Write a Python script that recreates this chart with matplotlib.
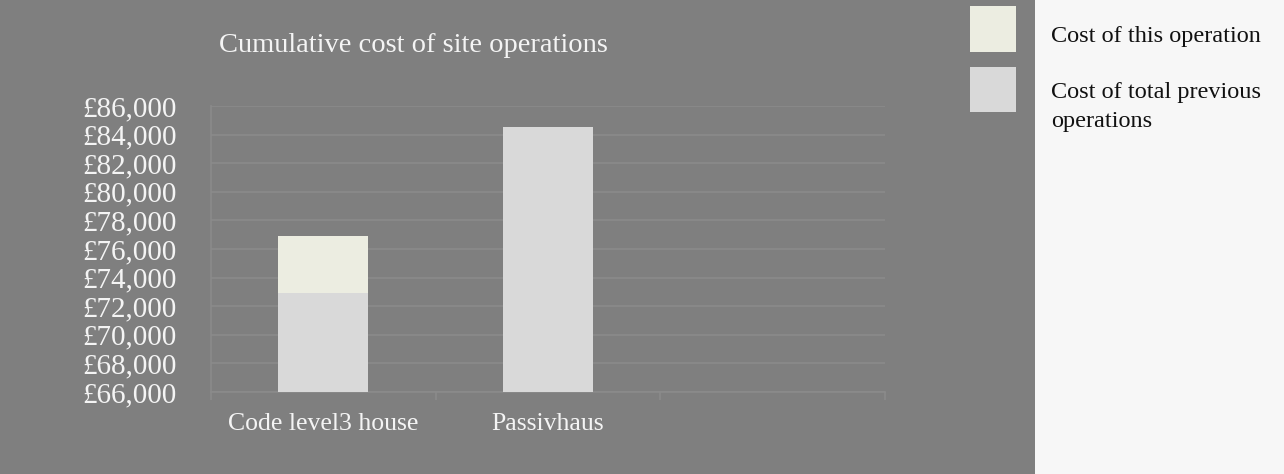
import matplotlib
matplotlib.use("Agg")
import matplotlib.pyplot as plt
from matplotlib.patches import Rectangle
from matplotlib.ticker import FuncFormatter, FixedLocator

# data
categories = ["Code level3 house", "Passivhaus"]
prev_cost = [72900, 84500]      # cost of total previous operations
this_cost = [4000, 0]           # cost of this operation
series_names = ["Cost of this operation", "Cost of total previous\noperations"]
y_ticks = list(range(66000, 86001, 2000))

# colours
bg_grey = "#7f7f7f"
panel_col = "#f7f7f7"
this_col = "#ecede1"
prev_col = "#d9d9d9"
grid_col = "#8b8b8b"
text_col = "#f4f4f4"

plt.rcParams["font.family"] = ["Liberation Serif", "DejaVu Serif"]

W, H = 1284, 474
fig = plt.figure(figsize=(W / 100, H / 100), dpi=100, facecolor=panel_col)

# grey chart background
fig.add_artist(Rectangle((0, 0), 1035 / W, 1, transform=fig.transFigure,
                         facecolor=bg_grey, edgecolor="none", zorder=-10))

ax = fig.add_axes([211 / W, 1 - 392 / H, (885 - 211) / W, (392 - 106) / H])
ax.set_facecolor(bg_grey)

x = list(range(len(categories)))
ax.bar(x, prev_cost, width=0.4, color=prev_col, zorder=3)
ax.bar(x, this_cost, width=0.4, bottom=prev_cost, color=this_col, zorder=3)

ax.set_xlim(-0.5, 2.5)
ax.set_ylim(y_ticks[0], y_ticks[-1])
ax.set_yticks(y_ticks)
ax.yaxis.set_major_formatter(FuncFormatter(lambda v, p: "£{:,.0f}".format(v)))
ax.grid(axis="y", color=grid_col, linewidth=1.2, zorder=0)

ax.set_xticks(x)
ax.set_xticklabels(categories)
ax.xaxis.set_minor_locator(FixedLocator([-0.5, 0.5, 1.5, 2.5]))
ax.tick_params(axis="x", which="major", length=0, pad=15, labelsize=18.5, labelcolor=text_col)
ax.tick_params(axis="x", which="minor", length=6, color=grid_col, width=1.2)
ax.tick_params(axis="y", length=0, pad=25, labelsize=21, labelcolor=text_col)

for s in ["top", "right"]:
    ax.spines[s].set_visible(False)
for s in ["left", "bottom"]:
    ax.spines[s].set_color(grid_col)
    ax.spines[s].set_linewidth(1.2)

# title
fig.text(413 / W, 1 - 52 / H, "Cumulative cost of site operations",
         ha="center", va="baseline", fontsize=20.5, color=text_col)

# legend
fig.add_artist(Rectangle((970 / W, 1 - 52 / H), 46 / W, 46 / H, transform=fig.transFigure,
                         facecolor=this_col, edgecolor="none"))
fig.add_artist(Rectangle((970 / W, 1 - 112 / H), 46 / W, 45 / H, transform=fig.transFigure,
                         facecolor=prev_col, edgecolor="none"))
fig.text(1051 / W, 1 - 42 / H, series_names[0], ha="left", va="baseline",
         fontsize=17.5, color="#111111")
fig.text(1051 / W, 1 - 127 / H, series_names[1], ha="left", va="baseline",
         fontsize=17.5, color="#111111", linespacing=1.5)

fig.savefig("out.png", dpi=100, facecolor=fig.get_facecolor())
